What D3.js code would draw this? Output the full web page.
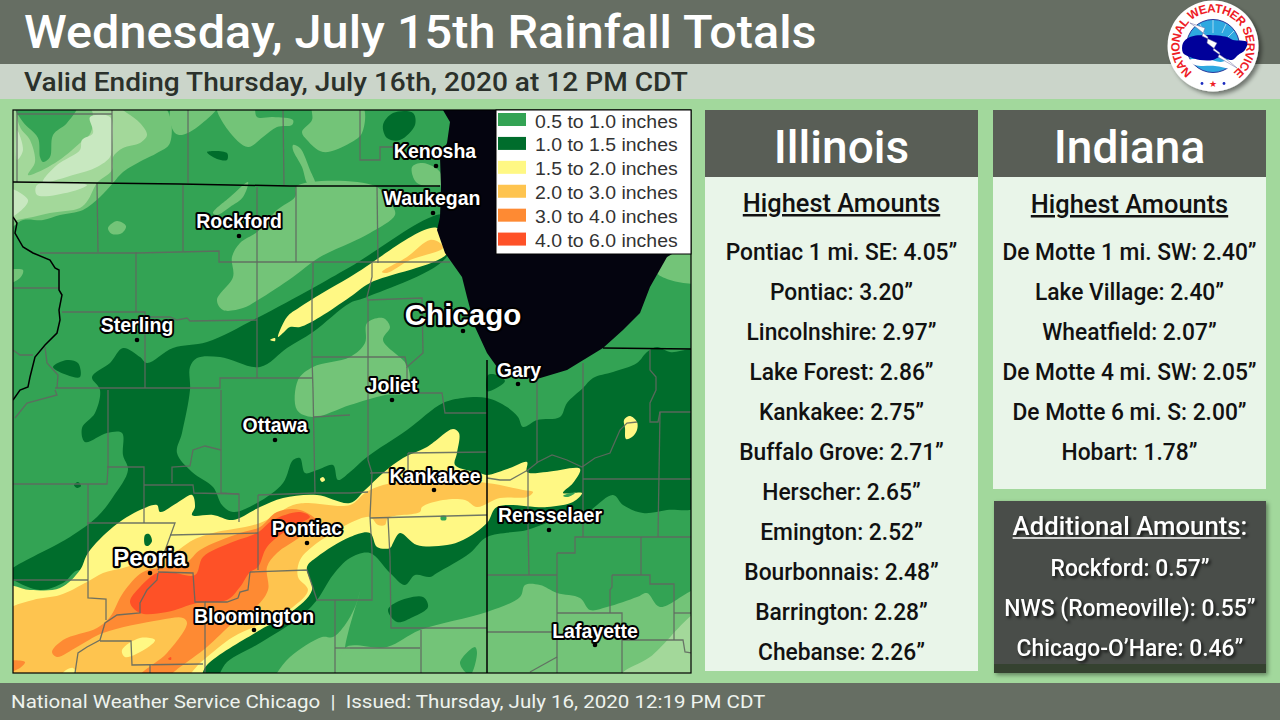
<!DOCTYPE html>
<html>
<head>
<meta charset="utf-8">
<style>
  html, body { margin: 0; padding: 0; background: #a2d89c; }
  svg { display: block; }
  text { font-family: Roboto, "Liberation Sans", sans-serif; }
  .maplabel { font-family: "Liberation Sans", Arial, sans-serif; font-weight: bold; fill: #fff; stroke: #000; paint-order: stroke; stroke-linejoin: round; }
</style>
<script src="https://cdn.jsdelivr.net/npm/d3@7"></script>
</head>
<body>
<svg id="chart" width="1280" height="720"></svg>
<script>
// Text content
const titleText = "Wednesday, July 15th Rainfall Totals";
const subtitleText = "Valid Ending Thursday, July 16th, 2020 at 12 PM CDT";
const footerText = "National Weather Service Chicago  |  Issued: Thursday, July 16, 2020 12:19 PM CDT";

// Station tables
const illinoisNames = ["Pontiac 1 mi. SE", "Pontiac", "Lincolnshire", "Lake Forest", "Kankakee", "Buffalo Grove", "Herscher", "Emington", "Bourbonnais", "Barrington", "Chebanse"];
const illinoisValues = [4.05, 3.20, 2.97, 2.86, 2.75, 2.71, 2.65, 2.52, 2.48, 2.28, 2.26];
const indianaNames = ["De Motte 1 mi. SW", "Lake Village", "Wheatfield", "De Motte 4 mi. SW", "De Motte 6 mi. S", "Hobart"];
const indianaValues = [2.40, 2.40, 2.07, 2.05, 2.00, 1.78];
const additionalNames = ["Rockford", "NWS (Romeoville)", "Chicago-O\u2019Hare"];
const additionalValues = [0.57, 0.55, 0.46];

// Legend
const legendLabels = ["0.5 to 1.0 inches", "1.0 to 1.5 inches", "1.5 to 2.0 inches", "2.0 to 3.0 inches", "3.0 to 4.0 inches", "4.0 to 6.0 inches"];
const legendColors = ["#33a354", "#006d2c", "#fff884", "#fec44f", "#fe8a33", "#fe5127"];

// Cities, in map grid units
const cityNames = ["Kenosha", "Waukegan", "Rockford", "Chicago", "Sterling", "Gary", "Joliet", "Ottawa", "Kankakee", "Pontiac", "Rensselaer", "Peoria", "Bloomington", "Lafayette"];
const cityPoints = [[436, 166], [433, 213], [239, 236], [463, 331], [137, 340], [518, 384], [392, 400], [275, 440], [434, 490], [307, 543], [549, 530], [150, 573], [254, 630], [595, 645]];
const cityLabels = [[435, 151], [432, 198], [239, 221], [463, 314], [137, 325], [519, 370], [392, 385], [275, 425], [435, 476], [307, 528], [550, 515], [150, 557], [254, 616], [595, 631]];
const citySizes = [19.5, 19.5, 19.5, 29.5, 19.5, 19.5, 19.5, 19.5, 19.5, 19.5, 19.5, 24, 19.5, 19.5];

// Rainfall contours, in map grid units
const trace25 = [
  [[5, 105], [163, 105], [170, 143], [157, 153], [143, 160], [123, 172], [113, 183], [100, 197], [83, 210], [60, 215], [43, 220], [23, 220], [5, 230]],
  [[173, 105], [170, 120], [175, 133], [182, 135], [200, 125], [218, 105]],
  [[217, 105], [228, 130], [248, 147], [263, 137], [277, 127], [292, 125], [293, 120], [273, 117], [257, 117], [253, 105]],
  [[313, 105], [312, 120], [302, 132], [307, 140], [323, 152], [350, 143], [362, 133], [362, 105]],
  [[293, 145], [300, 148], [310, 170], [315, 184], [308, 184], [302, 167], [293, 150]],
  [[412, 167], [423, 163], [440, 172], [441, 185], [417, 183]],
  [[297, 186], [375, 186], [392, 205], [395, 215], [370, 233], [350, 243], [320, 257], [293, 277], [258, 300], [243, 308], [223, 310], [217, 300], [233, 277], [232, 257], [240, 243], [257, 232], [277, 210], [295, 197]],
  [[213, 213], [230, 197], [248, 182], [243, 197], [230, 207], [217, 215]],
  [[108, 228], [117, 221], [126, 226], [122, 233], [112, 234]],
  [[5, 272], [23, 270], [20, 278], [5, 284]],
  [[298, 380], [313, 367], [350, 357], [365, 343], [367, 323], [383, 318], [390, 327], [383, 340], [408, 367], [407, 392], [385, 395], [350, 405], [313, 417], [297, 410]],
  [[667, 257], [657, 273], [700, 282], [700, 250]],
  [[360, 592], [355, 607], [345, 625], [333, 637], [322, 637], [290, 657], [277, 673], [270, 685], [345, 685], [345, 648]],
  [[345, 648], [387, 647], [420, 630], [487, 612], [520, 597], [525, 585], [540, 585], [557, 593], [580, 598], [590, 610], [607, 607], [637, 597], [647, 593], [660, 607], [700, 590], [700, 685], [345, 685]]
];
const trace10 = [
  [[5, 105], [113, 105], [127, 113], [140, 123], [147, 135], [140, 143], [123, 148], [113, 157], [112, 170], [97, 183], [88, 200], [80, 208], [50, 213], [33, 217], [17, 220], [5, 222]],
  [[622, 673], [650, 657], [700, 612], [700, 685], [615, 685]]
];
const traceRing = [
  [[18, 108], [90, 108], [91, 132], [80, 143], [55, 163], [28, 175], [35, 162], [30, 140], [20, 127]]
];
const traceLight = [
  [[90, 117], [110, 117], [112, 147], [110, 157], [97, 167], [73, 175], [43, 182], [57, 165], [80, 150], [82, 140], [93, 133]],
  [[17, 130], [23, 150], [17, 160]],
  [[5, 188], [28, 200], [18, 213], [5, 219]],
  [[37, 185], [87, 185], [70, 192], [37, 195]]
];
const band05 = [
  [[15, 105], [77, 105], [67, 123], [53, 135], [50, 157], [43, 162], [40, 157], [38, 138], [23, 122]],
  [[460, 663], [475, 647], [477, 653], [470, 675]]
];
const band10 = [
  [[445, 215], [350, 267], [313, 288], [257, 318], [207, 342], [173, 348], [147, 363], [140, 357], [123, 348], [110, 363], [92, 377], [100, 390], [95, 413], [82, 428], [85, 442], [107, 433], [122, 433], [123, 455], [128, 470], [113, 497], [97, 517], [70, 537], [5, 575], [13, 580], [40, 590], [63, 583], [80, 570], [150, 640], [213, 680], [227, 662], [260, 643], [300, 617], [317, 600], [333, 575], [350, 558], [370, 553], [390, 573], [405, 585], [415, 575], [430, 577], [437, 573], [470, 553], [487, 537], [527, 530], [550, 522], [583, 515], [613, 495], [623, 505], [643, 513], [667, 510], [700, 505], [700, 352], [670, 352], [657, 347], [647, 352], [637, 363], [613, 372], [593, 378], [583, 388], [567, 403], [560, 417], [537, 420], [523, 427], [518, 417], [507, 407], [487, 398], [463, 398], [443, 403], [407, 430], [367, 457], [350, 472], [338, 480], [333, 465], [317, 470], [305, 473], [300, 458], [293, 460], [283, 483], [257, 503], [233, 512], [222, 505], [213, 487], [192, 472], [177, 453], [182, 433], [190, 390], [190, 367], [197, 358], [220, 357], [260, 367], [287, 348], [313, 332], [350, 303], [367, 297], [448, 255]],
  [[53, 367], [67, 360], [78, 363], [80, 377], [67, 375]],
  [[74, 485], [78, 482], [81, 486], [77, 488]],
  [[207, 152], [227, 153], [227, 160], [217, 159]],
  [[383, 125], [393, 113], [413, 113], [415, 125], [400, 140], [387, 138]],
  [[388, 610], [397, 602], [423, 597], [428, 607], [413, 617], [397, 622]],
  [[488, 375], [497, 375], [505, 381], [490, 391], [487, 391]]
];
const band15 = [
  [[278, 337], [287, 317], [300, 307], [350, 277], [437, 228], [448, 252], [370, 283], [350, 297], [320, 317], [300, 327], [290, 327], [283, 333]],
  [[270, 340], [275, 338], [275, 341]],
  [[5, 587], [30, 590], [60, 588], [80, 570], [88, 553], [113, 527], [140, 510], [157, 505], [160, 512], [177, 503], [192, 495], [195, 507], [192, 515], [213, 515], [233, 520], [260, 507], [283, 498], [317, 495], [350, 503], [365, 490], [383, 473], [403, 458], [427, 447], [453, 429], [459, 433], [457, 453], [455, 465], [480, 473], [487, 475], [510, 468], [527, 462], [527, 472], [547, 472], [580, 469], [573, 483], [563, 493], [582, 493], [573, 502], [547, 507], [497, 507], [487, 523], [463, 540], [447, 545], [417, 545], [400, 533], [393, 543], [390, 548], [377, 547], [370, 533], [350, 537], [317, 557], [307, 567], [312, 590], [290, 613], [260, 630], [207, 665], [195, 685], [5, 685]],
  [[624, 420], [630, 416], [637, 422], [637, 430], [632, 437], [626, 439], [625, 428]],
  [[320, 479], [323, 477], [325, 480], [322, 482]]
];
const band20 = [
  [[382, 272], [407, 257], [430, 240], [440, 243], [443, 248], [410, 260], [387, 273]],
  [[5, 613], [33, 600], [60, 595], [87, 582], [103, 573], [123, 568], [143, 562], [167, 557], [193, 540], [213, 533], [260, 523], [293, 505], [307, 503], [350, 505], [365, 493], [383, 485], [427, 480], [487, 483], [523, 490], [533, 492], [527, 497], [500, 498], [477, 507], [465, 500], [443, 500], [422, 507], [420, 512], [388, 518], [385, 525], [378, 525], [370, 517], [350, 523], [333, 533], [317, 543], [300, 560], [298, 577], [308, 590], [293, 607], [270, 620], [233, 637], [207, 657], [200, 663], [175, 685], [5, 685]]
];
const holes20 = [
  [[122, 650], [140, 638], [155, 640], [147, 648], [125, 657]],
  [[63, 673], [73, 668], [77, 678], [63, 680]]
];
const band30 = [
  [[52, 652], [63, 640], [97, 628], [110, 617], [123, 593], [143, 572], [167, 567], [187, 562], [200, 550], [240, 533], [260, 527], [277, 512], [300, 510], [317, 522], [300, 537], [277, 553], [267, 567], [268, 590], [253, 610], [233, 623], [207, 647], [180, 667], [167, 676], [140, 676], [167, 653], [187, 623], [183, 618], [160, 620], [103, 633], [77, 647], [57, 657]],
  [[5, 662], [25, 662], [20, 668], [5, 672]]
];
const band40 = [
  [[130, 602], [140, 587], [157, 573], [170, 572], [195, 575], [203, 557], [230, 543], [257, 533], [273, 520], [300, 512], [310, 517], [290, 528], [267, 547], [258, 567], [250, 572], [240, 587], [227, 600], [197, 603], [167, 612], [140, 613]],
  [[168, 659], [171, 657], [171, 660]]
];
const peoriaHole = [[[145, 535], [149, 534], [152, 541], [148, 546], [145, 545]]];
const greenDots = [[[441, 516], [446, 516], [446, 520], [441, 520]], [[563, 496], [570, 493], [575, 493], [568, 497]]];

const lakeOutline = [[440, 105], [450, 122], [447, 143], [440, 157], [441, 187], [440, 217], [437, 230], [445, 253], [462, 277], [467, 297], [475, 327], [487, 353], [497, 367], [517, 377], [537, 379], [567, 370], [603, 348], [623, 330], [640, 313], [650, 287], [667, 257], [695, 240], [700, 105]];

// County lines and state lines, in map grid units
const countyLines = [
  [[17, 110], [17, 182]], [[17, 114], [112, 114]], [[112, 110], [112, 182]], [[188, 110], [188, 183]], [[283, 110], [284, 185]],
  [[97, 183], [98, 252]], [[183, 185], [183, 251]], [[257, 187], [257, 378]], [[296, 187], [296, 262]],
  [[40, 253], [137, 253], [219, 251], [219, 262], [313, 262], [450, 262]], [[136, 252], [136, 312]], [[13, 288], [60, 288]],
  [[62, 312], [145, 312], [145, 388]], [[145, 317], [170, 317], [177, 320], [187, 318], [190, 321], [257, 320]],
  [[313, 262], [313, 282], [312, 287], [312, 357], [313, 390], [315, 493], [350, 493], [368, 492]], [[312, 357], [350, 357]],
  [[55, 388], [220, 388], [220, 378], [312, 378]], [[13, 350], [20, 355], [33, 355]], [[45, 347], [47, 363], [58, 375], [57, 388]],
  [[360, 110], [360, 160], [380, 160], [380, 147], [395, 147]], [[377, 186], [378, 263]],
  [[372, 263], [372, 277], [367, 297], [368, 300], [422, 298], [423, 353], [407, 367], [405, 357], [350, 357]],
  [[368, 300], [368, 460], [372, 473], [370, 517], [372, 550], [372, 600], [350, 600]],
  [[407, 367], [407, 393], [442, 393], [445, 413], [487, 413]],
  [[537, 380], [537, 463]], [[583, 363], [583, 537]],
  [[650, 350], [650, 370], [656, 377], [656, 390], [650, 403], [650, 422], [658, 422], [660, 412], [692, 412]], [[660, 412], [658, 537]],
  [[528, 470], [538, 462], [552, 455], [567, 460], [582, 467], [595, 458], [610, 453], [620, 430], [627, 423], [637, 422]],
  [[583, 479], [692, 479]], [[487, 478], [500, 480], [510, 480], [528, 470]], [[528, 470], [528, 523], [529, 575]],
  [[487, 575], [557, 575]], [[557, 553], [557, 673]], [[557, 553], [575, 553], [575, 537], [692, 537]],
  [[641, 537], [641, 575]], [[612, 575], [650, 575], [650, 584], [674, 584], [674, 640]], [[612, 575], [612, 587], [610, 590], [610, 613]],
  [[557, 613], [622, 613], [622, 673]], [[622, 640], [683, 640], [685, 652], [692, 653]], [[674, 613], [692, 613]],
  [[487, 632], [557, 632]], [[557, 657], [530, 672]],
  [[408, 453], [487, 452]], [[408, 453], [408, 472], [370, 473]],
  [[370, 518], [487, 515]], [[388, 518], [390, 557], [391, 628], [487, 628]], [[350, 648], [420, 648]], [[421, 630], [421, 673]],
  [[221, 390], [221, 493], [239, 494], [239, 522]], [[313, 417], [350, 415]],
  [[108, 390], [108, 467], [107, 484], [13, 484]], [[107, 467], [144, 467], [144, 523]],
  [[88, 484], [88, 598], [106, 599], [106, 620]], [[87, 523], [175, 523], [158, 570]],
  [[144, 485], [193, 485], [194, 493], [239, 494]], [[172, 483], [172, 467], [190, 466], [193, 450], [205, 446], [221, 450]],
  [[170, 535], [258, 533]], [[258, 495], [258, 570]], [[258, 495], [315, 493]],
  [[158, 572], [193, 573], [195, 602], [205, 602], [205, 673]], [[250, 572], [307, 570], [317, 600], [350, 600]],
  [[250, 572], [248, 590], [240, 592], [238, 598], [227, 602], [205, 602]],
  [[158, 573], [157, 580], [147, 590], [140, 603], [140, 613], [117, 615], [105, 623], [100, 640], [87, 647], [78, 653], [75, 673]],
  [[13, 580], [88, 580]], [[100, 641], [131, 641], [132, 665], [203, 664]], [[150, 665], [150, 673]],
  [[335, 600], [335, 673]], [[335, 648], [350, 648]], [[15, 418], [27, 403], [57, 395], [55, 390]]
];
const stateLines = [
  [[13, 182], [180, 184], [290, 186], [440, 186]],
  [[13, 217], [17, 223], [15, 233], [23, 247], [33, 253], [50, 260], [55, 268], [59, 270], [59, 290], [62, 295], [59, 310], [60, 320], [57, 333], [45, 345], [35, 357], [30, 377], [28, 387], [20, 390], [13, 400]],
  [[487, 360], [487, 673]],
  [[603, 348], [692, 349]]
];

// NWS logo outlines, in logo units
const logoCloud = [[-30, -3], [-23, -9], [-6, -11], [14, -9], [20, -6], [34, -4], [32, 4], [25, 9], [19, 14], [7, 11], [0, 14], [-13, 14], [-23, 11], [-30, 7]];
const logoBolt = [[-23, -23], [-8, -18], [-11, -10], [4, -3], [0, 4], [17, 16], [24, 22], [5, 11], [7, 7], [-6, -3], [-5, -9], [-16, -18]];
const logoFoam = [[-24, 14], [-5, 13], [8, 16], [27, 9], [22, 22], [2, 20], [-18, 19]];
const logoSpokes = [[[-13, -22], [-9, -13]], [[0, -26], [0, -13]], [[13, -22], [9, -13]], [[21, -15], [15, -9]]];

const svg = d3.select("#chart");

// Map scales - grid units line up with the map frame
const mapLeft = 13, mapTop = 110, mapRight = 691, mapBottom = 673;
const mapX = d3.scaleLinear().domain([13, 691]).range([mapLeft, mapRight]);
const mapY = d3.scaleLinear().domain([110, 673]).range([mapTop, mapBottom]);

const smooth = d3.line().x(d => mapX(d[0])).y(d => mapY(d[1])).curve(d3.curveCatmullRomClosed.alpha(0.5));
const straight = d3.line().x(d => mapX(d[0])).y(d => mapY(d[1]));

const defs = svg.append("defs");
defs.append("clipPath").attr("id", "map-clip").append("rect")
    .attr("x", mapLeft).attr("y", mapTop).attr("width", mapRight - mapLeft).attr("height", mapBottom - mapTop);

// stretch or squeeze a text to a share of its natural width
function squeeze(sel, k) {
    sel.each(function() {
        d3.select(this)
            .attr("textLength", this.getComputedTextLength() * k)
            .attr("lengthAdjust", "spacingAndGlyphs");
    });
    return sel;
}

function drawFrame() {
    svg.append("rect").attr("width", 1280).attr("height", 720).attr("fill", "#a2d89c");
    svg.append("rect").attr("width", 1280).attr("height", 64).attr("fill", "#666e63");
    svg.append("rect").attr("y", 64).attr("width", 1280).attr("height", 35).attr("fill", "#cbd5ca");
    svg.append("rect").attr("y", 683).attr("width", 1280).attr("height", 37).attr("fill", "#666e63");

    squeeze(svg.append("text").attr("x", 24).attr("y", 48)
        .attr("fill", "#fff").attr("font-size", 46).attr("font-weight", 500)
        .text(titleText), 1.057);
    squeeze(svg.append("text").attr("x", 24).attr("y", 91)
        .attr("fill", "#2b312b").attr("font-size", 26).attr("font-weight", 500)
        .text(subtitleText), 1.08);
    squeeze(svg.append("text").attr("x", 11).attr("y", 708)
        .attr("fill", "#eef3ee").attr("font-size", 19)
        .style("white-space", "pre")
        .text(footerText), 1.08);
}

function drawRain() {
    const g = svg.append("g").attr("clip-path", "url(#map-clip)");
    g.append("rect").attr("x", mapLeft).attr("y", mapTop)
        .attr("width", mapRight - mapLeft).attr("height", mapBottom - mapTop)
        .attr("fill", legendColors[0]);

    // painted from light to heavy, each one over the last
    const layers = [
        [trace25, "#73c478"], [trace10, "#a3d89a"], [traceRing, "#73c478"], [traceLight, "#c8e8c0"],
        [band05, legendColors[0]], [band10, legendColors[1]], [band15, legendColors[2]],
        [band20, legendColors[3]], [holes20, legendColors[2]], [band30, legendColors[4]],
        [band40, legendColors[5]], [peoriaHole, legendColors[1]], [greenDots, legendColors[0]]
    ];
    layers.forEach(([polys, color]) => {
        g.selectAll(null).data(polys).enter().append("path")
            .attr("d", smooth).attr("fill", color);
    });

    g.append("path").datum(lakeOutline).attr("d", straight).attr("fill", "#04040f");

    g.selectAll(null).data(countyLines).enter().append("path")
        .attr("d", straight).attr("fill", "none")
        .attr("stroke", "#606860").attr("stroke-width", 1.3).attr("stroke-opacity", 0.9);
    g.selectAll(null).data(stateLines).enter().append("path")
        .attr("d", straight).attr("fill", "none")
        .attr("stroke", "#000").attr("stroke-width", 1.5);

    svg.append("rect").attr("x", mapLeft).attr("y", mapTop)
        .attr("width", mapRight - mapLeft).attr("height", mapBottom - mapTop)
        .attr("fill", "none").attr("stroke", "#000").attr("stroke-width", 1.2);
}

function drawCities() {
    const g = svg.append("g");
    g.selectAll("circle").data(cityPoints).enter().append("circle")
        .attr("cx", d => mapX(d[0])).attr("cy", d => mapY(d[1])).attr("r", 2.3).attr("fill", "#000");
    g.selectAll("text").data(cityNames).enter().append("text")
        .attr("class", "maplabel")
        .attr("x", (d, i) => mapX(cityLabels[i][0]))
        .attr("y", (d, i) => mapY(cityLabels[i][1]) + citySizes[i] * 0.36)
        .attr("text-anchor", "middle")
        .attr("font-size", (d, i) => citySizes[i])
        .attr("stroke-width", (d, i) => citySizes[i] > 20 ? 4.5 : 4)
        .text(d => d);
}

function drawLegend() {
    const g = svg.append("g");
    g.append("rect").attr("x", 496).attr("y", 110).attr("width", 195).attr("height", 144)
        .attr("fill", "#fff").attr("stroke", "#000").attr("stroke-width", 1);
    const row = d3.scaleBand().domain(legendLabels).range([110.5, 254]).padding(0);
    g.selectAll("rect.swatch").data(legendLabels).enter().append("rect")
        .attr("class", "swatch")
        .attr("x", 498).attr("y", d => row(d) + 2.5)
        .attr("width", 28).attr("height", 13)
        .attr("fill", (d, i) => legendColors[i]);
    g.selectAll("text").data(legendLabels).enter().append("text")
        .attr("x", 535).attr("y", d => row(d) + 17)
        .attr("fill", "#333").attr("font-size", 18)
        .style("font-family", "'Liberation Sans', Arial, sans-serif")
        .text(d => d)
        .call(squeeze, 1.08);
}

function amountLine(name, value) {
    return `${name}: ${value.toFixed(2)}\u201d`;
}

function drawPanel(title, x, width, bodyBottom, headBase, names, values) {
    const cx = x + width / 2;
    svg.append("rect").attr("x", x).attr("y", 110).attr("width", width).attr("height", 67).attr("fill", "#595e56");
    svg.append("rect").attr("x", x).attr("y", 177).attr("width", width).attr("height", bodyBottom - 177).attr("fill", "#e9f5e9");
    svg.append("text").attr("x", cx).attr("y", 163).attr("text-anchor", "middle")
        .attr("fill", "#fff").attr("font-size", 46).attr("font-weight", 500).text(title);
    squeeze(svg.append("text").attr("x", cx).attr("y", headBase).attr("text-anchor", "middle")
        .attr("fill", "#111").attr("font-size", 25).attr("font-weight", 500)
        .attr("text-decoration", "underline").text("Highest Amounts"), 1.016);

    const y = d3.scalePoint().domain(d3.range(11)).range([260, 660]);
    svg.selectAll(null).data(names).enter().append("text")
        .attr("x", cx).attr("y", (d, i) => y(i))
        .attr("text-anchor", "middle")
        .attr("fill", "#111").attr("font-size", 23).attr("font-weight", 500)
        .text((d, i) => amountLine(d, values[i]))
        .call(squeeze, 0.99);
}

function drawAdditional() {
    const x = 994, w = 272, top = 501, bottom = 673;
    defs.append("filter").attr("id", "box-shadow").attr("x", "-10%").attr("y", "-10%").attr("width", "120%").attr("height", "120%")
        .append("feDropShadow").attr("dx", 2).attr("dy", 2).attr("stdDeviation", 2).attr("flood-opacity", 0.4);
    svg.append("rect").attr("x", x).attr("y", top).attr("width", w).attr("height", bottom - top)
        .attr("fill", "#4a4d49").attr("filter", "url(#box-shadow)");
    svg.append("rect").attr("x", x).attr("y", 664).attr("width", w).attr("height", 9).attr("fill", "#354230");

    const shadow = "drop-shadow(2px 2px 1.5px rgba(0,0,0,0.7))";
    const head = svg.append("text").attr("x", x + w / 2).attr("y", 535).attr("text-anchor", "middle")
        .attr("fill", "#fff").attr("font-size", 25).attr("font-weight", 500).style("filter", shadow)
        .text("Additional Amounts:");
    squeeze(head, 1.03);

    // underline stops before the colon
    const headWidth = +head.attr("textLength");
    const colon = head.node().getBBox().width - head.node().getSubStringLength(0, 18);
    svg.append("line")
        .attr("x1", x + w / 2 - headWidth / 2).attr("x2", x + w / 2 + headWidth / 2 - colon)
        .attr("y1", 538).attr("y2", 538)
        .attr("stroke", "#fff").attr("stroke-width", 1.5);

    const y = d3.scalePoint().domain(d3.range(3)).range([576, 656]);
    svg.selectAll(null).data(additionalNames).enter().append("text")
        .attr("x", x + w / 2).attr("y", (d, i) => y(i))
        .attr("text-anchor", "middle")
        .attr("fill", "#fff").attr("font-size", 23).attr("font-weight", 500)
        .style("filter", shadow)
        .text((d, i) => amountLine(d, additionalValues[i]))
        .call(squeeze, 0.995);
}

function drawLogo() {
    const cx = 1213, cy = 46;
    const lx = d3.scaleLinear().domain([-46, 46]).range([cx - 46, cx + 46]);
    const ly = d3.scaleLinear().domain([-46, 46]).range([cy - 46, cy + 46]);
    const blob = d3.line().x(d => lx(d[0])).y(d => ly(d[1])).curve(d3.curveCatmullRomClosed);
    const sharp = d3.line().x(d => lx(d[0])).y(d => ly(d[1])).curve(d3.curveLinearClosed);
    const plain = d3.line().x(d => lx(d[0])).y(d => ly(d[1]));

    defs.append("filter").attr("id", "logo-shadow").attr("x", "-20%").attr("y", "-20%").attr("width", "150%").attr("height", "150%")
        .append("feDropShadow").attr("dx", 3).attr("dy", 3).attr("stdDeviation", 2).attr("flood-opacity", 0.45);
    const g = svg.append("g");
    g.append("circle").attr("cx", cx).attr("cy", cy).attr("r", 45.5).attr("fill", "#fff").attr("filter", "url(#logo-shadow)");

    const r = 33.5;
    const start = -Math.PI * 0.8 - Math.PI / 2, end = Math.PI * 0.8 - Math.PI / 2;
    const arc = d3.path();
    arc.arc(cx, cy, r, start, end);
    defs.append("path").attr("id", "logo-arc").attr("d", arc.toString());
    g.append("text").attr("fill", "#ee1c25").attr("font-size", 12).attr("font-weight", "bold")
        .style("font-family", "'Liberation Sans', Arial, sans-serif")
        .append("textPath").attr("href", "#logo-arc").attr("startOffset", "50%").attr("text-anchor", "middle")
        .style("letter-spacing", "-0.6px")
        .text("NATIONAL WEATHER SERVICE");

    g.append("circle").attr("cx", cx).attr("cy", cy).attr("r", 26.5).attr("fill", "#2ea8e0").attr("stroke", "#2b3a9c").attr("stroke-width", 1);
    g.selectAll("path.spoke").data(logoSpokes).enter().append("path").attr("class", "spoke")
        .attr("d", plain).attr("stroke", "#d8eef8").attr("stroke-width", 0.7);
    g.append("path").datum(logoFoam).attr("d", blob).attr("fill", "#fff");
    g.append("path").datum(logoCloud).attr("d", blob).attr("fill", "#00009a");
    g.append("path").datum(logoBolt).attr("d", sharp).attr("fill", "#fff").attr("stroke", "#6a6aa0").attr("stroke-width", 0.5);

    g.append("text").attr("x", cx).attr("y", cy + 41).attr("text-anchor", "middle")
        .attr("fill", "#ee1c25").attr("font-size", 9).text("\u2605");
    g.selectAll("circle.star").data([-11, 11]).enter().append("circle").attr("class", "star")
        .attr("cx", d => cx + d).attr("cy", cy + 37.5).attr("r", 1.4).attr("fill", "#1c2cc0");
}

drawFrame();
drawRain();
drawCities();
drawLegend();
drawPanel("Illinois", 705, 273, 671, 212, illinoisNames, illinoisValues);
drawPanel("Indiana", 993, 273, 489, 213, indianaNames, indianaValues);
drawAdditional();
drawLogo();
</script>
</body>
</html>
